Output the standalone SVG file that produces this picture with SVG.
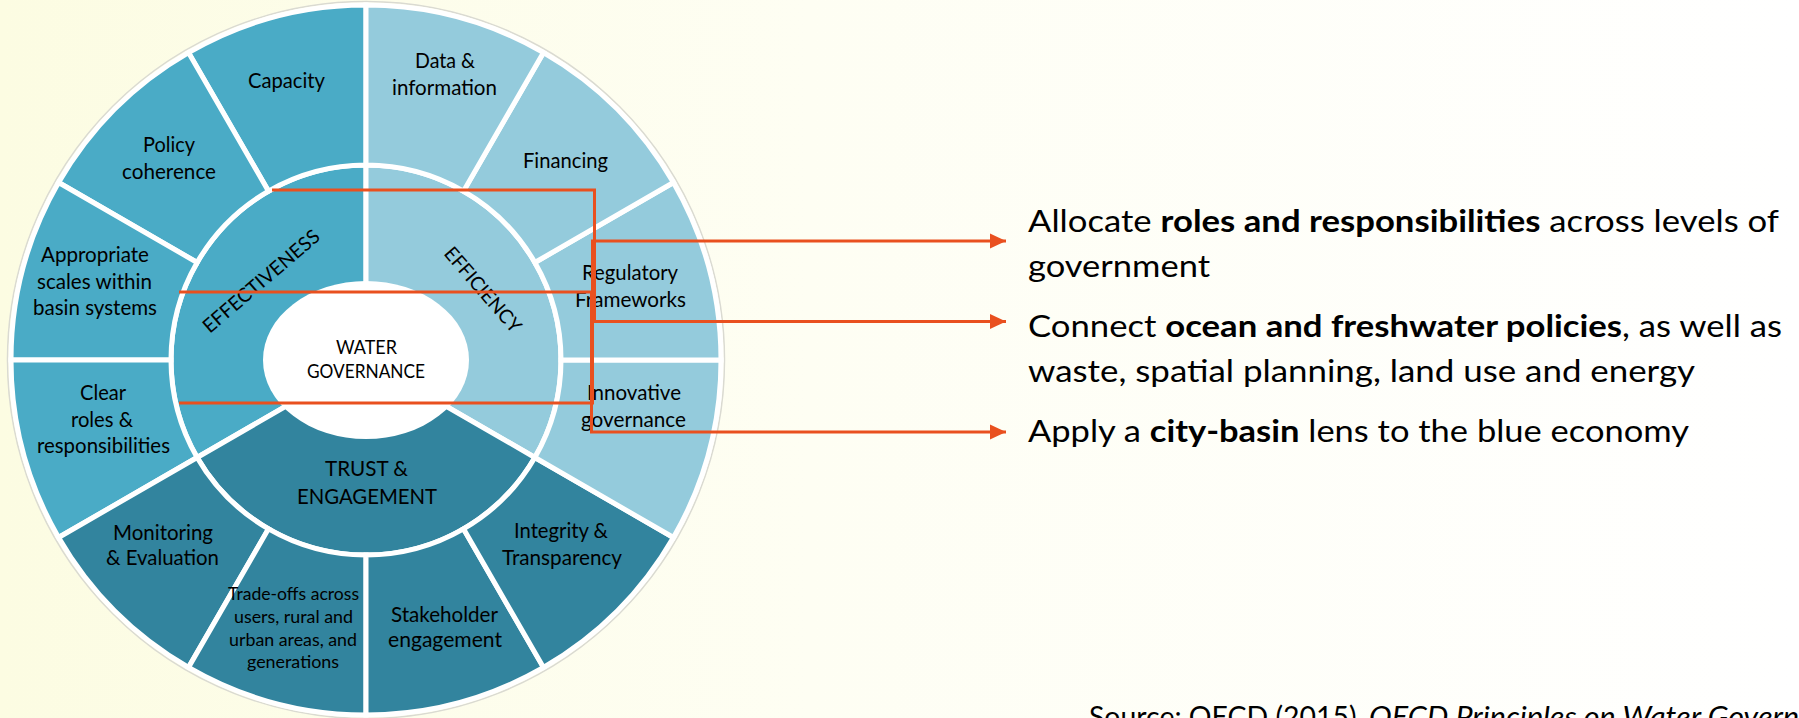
<svg xmlns="http://www.w3.org/2000/svg" width="1799" height="718" viewBox="0 0 1799 718">
<defs>
<linearGradient id="bg" x1="0" y1="0" x2="1" y2="0">
<stop offset="0" stop-color="#FCFCE2"/>
<stop offset="0.45" stop-color="#FEFEF3"/>
<stop offset="1" stop-color="#FFFFFF"/>
</linearGradient>
<marker id="arr" markerUnits="userSpaceOnUse" markerWidth="16" markerHeight="16" refX="16" refY="8" orient="auto">
<path d="M0,0.5 L16,8 L0,15.5 Z" fill="#E9501F"/>
</marker>
<style>
.s{stroke:#FFFFFF;stroke-width:5}
.eff{fill:#4AABC6}
.efc{fill:#94CBDC}
.tru{fill:#32849E}
.t{font-family:Lato,"Liberation Sans",sans-serif;font-size:20.5px;fill:#000;text-anchor:middle}
.ts{font-family:Lato,"Liberation Sans",sans-serif;font-size:17px;fill:#000;text-anchor:middle}
.tc{font-family:Lato,"Liberation Sans",sans-serif;font-size:18.5px;fill:#000;text-anchor:middle}
.tb{font-family:Lato,"Liberation Sans",sans-serif;font-size:21px;fill:#000;text-anchor:middle}
.r{font-family:Lato,"Liberation Sans",sans-serif;font-size:30.5px;fill:#000}
.src{font-family:Lato,"Liberation Sans",sans-serif;font-size:28px;fill:#000}
.c{fill:none;stroke:#E9501F;stroke-width:3}
</style>
</defs>
<rect x="0" y="0" width="1799" height="718" fill="url(#bg)"/>
<circle cx="366" cy="360" r="358.5" fill="none" stroke="#DADAD2" stroke-width="1.5"/>

<g id="wheel-core">
<g id="effectiveness">
<path class="eff s" d="M366,360 L366,165 A195,195 0 0 0 197.13,457.5 Z"/>
<text class="tb" transform="translate(261,281) rotate(-40.5)" x="0" y="7" textLength="147" lengthAdjust="spacingAndGlyphs" style="font-size:19.5px">EFFECTIVENESS</text>
</g>
<g id="efficiency">
<path class="efc s" d="M366,360 L534.87,457.5 A195,195 0 0 0 366,165 Z"/>
<text class="tb" transform="translate(483,289.5) rotate(49)" x="0" y="7" textLength="106" lengthAdjust="spacingAndGlyphs" style="font-size:19.5px">EFFICIENCY</text>
</g>
<g id="trust">
<path class="tru s" d="M366,360 L197.13,457.5 A195,195 0 0 0 534.87,457.5 Z"/>
<text class="tb" x="366.5" y="475.5" textLength="83" lengthAdjust="spacingAndGlyphs">TRUST &amp;</text>
<text class="tb" x="367" y="504" textLength="140" lengthAdjust="spacingAndGlyphs">ENGAGEMENT</text>
</g>
<g id="water-governance">
<ellipse cx="366" cy="360" rx="103" ry="79" fill="#FFFFFF"/>
<text class="tc" x="366.5" y="354" textLength="61" lengthAdjust="spacingAndGlyphs">WATER</text>
<text class="tc" x="366" y="378" textLength="118" lengthAdjust="spacingAndGlyphs">GOVERNANCE</text>
</g>
</g>

<g id="capacity">
<path class="eff s" d="M366,5 A355,355 0 0 0 188.5,52.56 L268.5,191.13 A195,195 0 0 1 366,165 Z"/>
<text class="t" x="286.5" y="88" textLength="77" lengthAdjust="spacingAndGlyphs">Capacity</text>
</g>
<g id="policy-coherence">
<path class="eff s" d="M188.5,52.56 A355,355 0 0 0 58.56,182.5 L197.13,262.5 A195,195 0 0 1 268.5,191.13 Z"/>
<text class="t" x="169" y="152" textLength="52" lengthAdjust="spacingAndGlyphs">Policy</text>
<text class="t" x="169" y="178.5" textLength="94" lengthAdjust="spacingAndGlyphs">coherence</text>
</g>
<g id="appropriate-scales">
<path class="eff s" d="M58.56,182.5 A355,355 0 0 0 11,360 L171,360 A195,195 0 0 1 197.13,262.5 Z"/>
<text class="t" x="95" y="262" textLength="108" lengthAdjust="spacingAndGlyphs">Appropriate</text>
<text class="t" x="94.5" y="288.5" textLength="115" lengthAdjust="spacingAndGlyphs">scales within</text>
<text class="t" x="95" y="315" textLength="124" lengthAdjust="spacingAndGlyphs">basin systems</text>
</g>
<g id="clear-roles">
<path class="eff s" d="M11,360 A355,355 0 0 0 58.56,537.5 L197.13,457.5 A195,195 0 0 1 171,360 Z"/>
<text class="t" x="103" y="400" textLength="46" lengthAdjust="spacingAndGlyphs">Clear</text>
<text class="t" x="102" y="427" textLength="62" lengthAdjust="spacingAndGlyphs">roles &amp;</text>
<text class="t" x="103.5" y="453" textLength="133" lengthAdjust="spacingAndGlyphs">responsibilities</text>
</g>
<g id="monitoring">
<path class="tru s" d="M58.56,537.5 A355,355 0 0 0 188.5,667.44 L268.5,528.87 A195,195 0 0 1 197.13,457.5 Z"/>
<text class="t" x="163" y="540" textLength="100" lengthAdjust="spacingAndGlyphs">Monitoring</text>
<text class="t" x="162.5" y="565" textLength="113" lengthAdjust="spacingAndGlyphs">&amp; Evaluation</text>
</g>
<g id="trade-offs">
<path class="tru s" d="M188.5,667.44 A355,355 0 0 0 366,715 L366,555 A195,195 0 0 1 268.5,528.87 Z"/>
<text class="ts" x="293.5" y="600" textLength="131" lengthAdjust="spacingAndGlyphs">Trade-offs across</text>
<text class="ts" x="293.5" y="623" textLength="119" lengthAdjust="spacingAndGlyphs">users, rural and</text>
<text class="ts" x="293" y="646" textLength="128" lengthAdjust="spacingAndGlyphs">urban areas, and</text>
<text class="ts" x="293" y="668" textLength="92" lengthAdjust="spacingAndGlyphs">generations</text>
</g>
<g id="stakeholder">
<path class="tru s" d="M366,715 A355,355 0 0 0 543.5,667.44 L463.5,528.87 A195,195 0 0 1 366,555 Z"/>
<text class="t" x="444.5" y="622" textLength="107" lengthAdjust="spacingAndGlyphs">Stakeholder</text>
<text class="t" x="445" y="647" textLength="114" lengthAdjust="spacingAndGlyphs">engagement</text>
</g>
<g id="integrity">
<path class="tru s" d="M543.5,667.44 A355,355 0 0 0 673.44,537.5 L534.87,457.5 A195,195 0 0 1 463.5,528.87 Z"/>
<text class="t" x="561" y="538" textLength="94" lengthAdjust="spacingAndGlyphs">Integrity &amp;</text>
<text class="t" x="562" y="565" textLength="120" lengthAdjust="spacingAndGlyphs">Transparency</text>
</g>
<g id="innovative">
<path class="efc s" d="M673.44,537.5 A355,355 0 0 0 721,360 L561,360 A195,195 0 0 1 534.87,457.5 Z"/>
<text class="t" x="634" y="400" textLength="94" lengthAdjust="spacingAndGlyphs">Innovative</text>
<text class="t" x="633.5" y="427" textLength="105" lengthAdjust="spacingAndGlyphs">governance</text>
</g>
<g id="regulatory">
<path class="efc s" d="M721,360 A355,355 0 0 0 673.44,182.5 L534.87,262.5 A195,195 0 0 1 561,360 Z"/>
<text class="t" x="630" y="280" textLength="96" lengthAdjust="spacingAndGlyphs">Regulatory</text>
<text class="t" x="630.5" y="307" textLength="111" lengthAdjust="spacingAndGlyphs">Frameworks</text>
</g>
<g id="financing">
<path class="efc s" d="M673.44,182.5 A355,355 0 0 0 543.5,52.56 L463.5,191.13 A195,195 0 0 1 534.87,262.5 Z"/>
<text class="t" x="565.5" y="168" textLength="85" lengthAdjust="spacingAndGlyphs">Financing</text>
</g>
<g id="data-information">
<path class="efc s" d="M543.5,52.56 A355,355 0 0 0 366,5 L366,165 A195,195 0 0 1 463.5,191.13 Z"/>
<text class="t" x="445" y="68" textLength="60" lengthAdjust="spacingAndGlyphs">Data &amp;</text>
<text class="t" x="444.5" y="95" textLength="105" lengthAdjust="spacingAndGlyphs">information</text>
</g>

<g id="connectors">
<polyline class="c" points="272,190 594.5,190 594.5,321.5 1006,321.5" marker-end="url(#arr)"/>
<polyline class="c" points="179,403 592.5,403 592.5,241 1006,241" marker-end="url(#arr)"/>
<polyline class="c" points="179,292 591.5,292 591.5,432 1006,432" marker-end="url(#arr)"/>
</g>

<g id="point-roles">
<text class="r" x="1028" y="232" textLength="751" lengthAdjust="spacingAndGlyphs">Allocate <tspan font-weight="bold">roles and responsibilities</tspan> across levels of</text>
<text class="r" x="1028" y="277" textLength="182" lengthAdjust="spacingAndGlyphs">government</text>
</g>
<g id="point-policies">
<text class="r" x="1028" y="337" textLength="754" lengthAdjust="spacingAndGlyphs">Connect <tspan font-weight="bold">ocean and freshwater policies</tspan>, as well as</text>
<text class="r" x="1028" y="382" textLength="667" lengthAdjust="spacingAndGlyphs">waste, spatial planning, land use and energy</text>
</g>
<g id="point-city-basin">
<text class="r" x="1028" y="442" textLength="661" lengthAdjust="spacingAndGlyphs">Apply a <tspan font-weight="bold">city-basin</tspan> lens to the blue economy</text>
</g>
<g id="source">
<text class="src" x="1089" y="727" textLength="274" lengthAdjust="spacingAndGlyphs">Source: OECD (2015), </text>
<text class="src" x="1369" y="727" font-style="italic" textLength="490" lengthAdjust="spacingAndGlyphs">OECD Principles on Water Governance</text>
</g>
</svg>
